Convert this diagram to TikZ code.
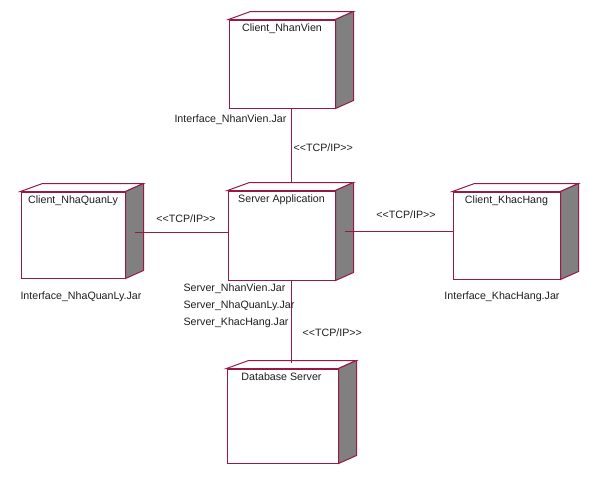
\documentclass[tikz,border=0pt]{standalone}
\usepackage{fontspec}
\setmainfont{Liberation Sans}
\usetikzlibrary{calc}
\definecolor{edge}{RGB}{150,25,70}
\definecolor{sidegray}{RGB}{128,128,128}
\definecolor{txt}{RGB}{30,30,30}
\tikzset{
  boxnode/.style={draw=edge, line width=0.75pt, fill=white, inner sep=0pt},
  conn/.style={draw=edge, line width=0.7pt},
  lbl/.style={font=\fontsize{8}{9.6}\selectfont, text=txt, inner sep=1pt},
}
\newcommand{\nodedeco}[1]{%
  \draw[edge, line width=0.75pt, fill=white] (#1.north west) -- ++(22,-8) -- ($(#1.north east)+(18,-8)$) -- (#1.north east) -- cycle;
  \draw[edge, line width=0.75pt, fill=sidegray] (#1.north east) -- ++(18,-8) -- ($(#1.south east)+(18,-8)$) -- (#1.south east) -- cycle;
}
\begin{document}
\begin{tikzpicture}[x=0.75pt, y=-0.75pt]
\useasboundingbox (0,0) rectangle (589,483);
% nodes
\node[boxnode, minimum width=106*0.75pt, minimum height=88*0.75pt] (nv) at (282,64) {};
\node[boxnode, minimum width=104*0.75pt, minimum height=86*0.75pt] (nql) at (73,235) {};
\node[boxnode, minimum width=107*0.75pt, minimum height=89*0.75pt] (srv) at (281.5,235.5) {};
\node[boxnode, minimum width=107*0.75pt, minimum height=87*0.75pt] (kh) at (506.5,235.5) {};
\node[boxnode, minimum width=111*0.75pt, minimum height=94*0.75pt] (db) at (282.5,416) {};
\nodedeco{nv}
\nodedeco{nql}
\nodedeco{srv}
\nodedeco{kh}
\nodedeco{db}
% titles
\node[lbl, anchor=north] (tnv) at ($(nv.north)+(0,3)$) {Client\_NhanVien};
\node[lbl, anchor=north] (tnql) at ($(nql.north)+(0,3)$) {Client\_NhaQuanLy};
\node[lbl, anchor=north] (tsrv) at ($(srv.north)+(0,3)$) {Server Application};
\node[lbl, anchor=north] (tkh) at ($(kh.north)+(0,3)$) {Client\_KhacHang};
\node[lbl, anchor=north] (tdb) at ($(db.north)+(-1,3)$) {Database Server};
% connector end points
\coordinate (nvb) at ($(nv.south)+(9,0)$);
\coordinate (srvt) at ($(srv.north)+(9.5,-8)$);
\coordinate (srvb) at ($(srv.south)+(9.5,0)$);
\coordinate (dbt) at ($(db.north)+(8.5,-6)$);
\coordinate (nqlr) at ($(nql.east)+(9,-3)$);
\coordinate (srvl) at ($(srv.west)+(0,-3.5)$);
\coordinate (srvr) at ($(srv.east)+(9,-4.5)$);
\coordinate (khl) at ($(kh.west)+(0,-4.5)$);
\draw[conn] (nvb) -- (srvt);
\draw[conn] (srvb) -- (dbt);
\draw[conn] (nqlr) -- (srvl);
\draw[conn] (srvr) -- (khl);
% labels
\node[lbl, anchor=east] (inv) at (288,120) {Interface\_NhanVien.Jar};
\node[lbl, anchor=west] (tcp1) at (292,148) {<{}<TCP/IP>{}>};
\node[lbl] (tcp2) at (186,219) {<{}<TCP/IP>{}>};
\node[lbl] (tcp3) at (406,215) {<{}<TCP/IP>{}>};
\node[lbl] (inql) at (81,297) {Interface\_NhaQuanLy.Jar};
\node[lbl] (ikh) at (502,297) {Interface\_KhacHang.Jar};
\node[lbl, anchor=west] (s1) at (182,289) {Server\_NhanVien.Jar};
\node[lbl, anchor=west] (s2) at (182,306) {Server\_NhaQuanLy.Jar};
\node[lbl, anchor=west] (s3) at (182,323) {Server\_KhacHang.Jar};
\node[lbl, anchor=west] (tcp4) at (301,333) {<{}<TCP/IP>{}>};
\end{tikzpicture}
\end{document}
